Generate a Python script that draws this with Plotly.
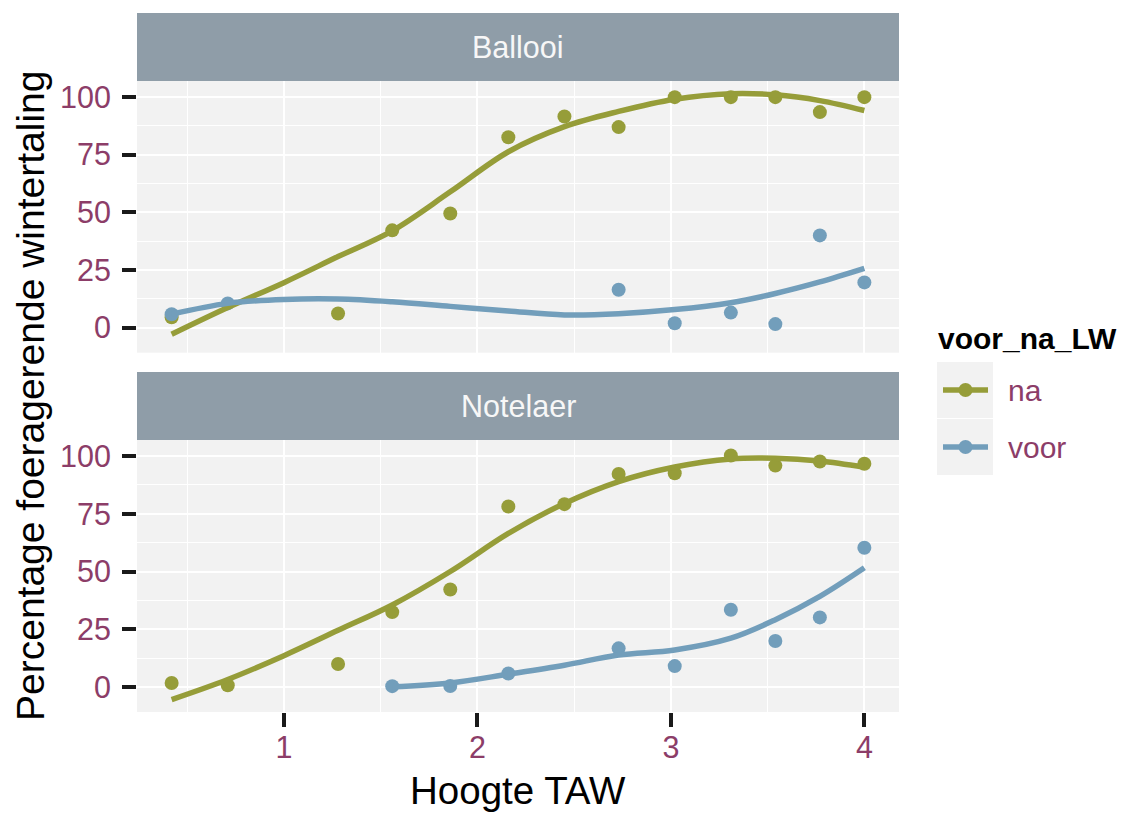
import plotly.graph_objects as go

# ---------------- data ----------------
# Ballooi (top panel)
ballooi_na_x = [0.42, 1.28, 1.56, 1.86, 2.16, 2.45, 2.73, 3.02, 3.31, 3.54, 3.77, 4.0]
ballooi_na_y = [4.5, 6.1, 42.2, 49.5, 82.6, 91.6, 87.0, 100, 100, 100, 93.5, 100]
ballooi_voor_x = [0.42, 0.71, 2.73, 3.02, 3.31, 3.54, 3.77, 4.0]
ballooi_voor_y = [5.8, 10.5, 16.4, 1.9, 6.5, 1.5, 40.0, 19.6]

# Notelaer (bottom panel)
notelaer_na_x = [0.42, 0.71, 1.28, 1.56, 1.86, 2.16, 2.45, 2.73, 3.02, 3.31, 3.54, 3.77, 4.0]
notelaer_na_y = [1.7, 0.7, 9.9, 32.4, 42.2, 78.2, 79.2, 92.3, 92.6, 100.3, 95.9, 97.7, 96.7]
notelaer_voor_x = [1.56, 1.86, 2.16, 2.73, 3.02, 3.31, 3.54, 3.77, 4.0]
notelaer_voor_y = [0.3, 0.4, 5.8, 16.7, 9.0, 33.4, 19.9, 30.1, 60.3]

# smoothed curves
curve_x = [0.42, 0.71, 1.0, 1.28, 1.56, 1.86, 2.16, 2.45, 2.73, 3.02, 3.31, 3.54, 3.77, 4.0]
ballooi_na_fit = [-2.9, 8.7, 19.5, 30.8, 42.0, 58.9, 76.3, 87.2, 93.8, 99.1, 101.5, 101.0, 98.5, 94.2]
ballooi_voor_fit = [5.8, 10.5, 12.2, 12.4, 11.2, 9.2, 7.2, 5.5, 6.0, 7.8, 10.8, 14.8, 19.8, 25.7]
notelaer_na_fit = [-5.5, 3.2, 13.5, 24.5, 35.5, 50.0, 66.5, 79.5, 89.0, 95.3, 98.8, 99.1, 97.9, 95.2]
curve_x_voor_n = [1.56, 1.86, 2.16, 2.45, 2.73, 3.02, 3.31, 3.54, 3.77, 4.0]
notelaer_voor_fit = [0.0, 1.7, 5.5, 9.4, 13.8, 16.0, 21.1, 29.1, 39.2, 51.6]

panels = ["Ballooi", "Notelaer"]
groups = ["na", "voor"]
legend_title = "voor_na_LW"

# ---------------- style ----------------
GREEN = "#969D39"
BLUE = "#729EBB"
STRIP = "#8F9DA8"
PANEL_BG = "#F2F2F2"
TICK_COL = "#8C3D68"
FONT = "Liberation Sans, Arial, sans-serif"
LW = 5.5
MS = 14

W, H = 1127, 816
ML, MR, MT, MB = 137, 228, 13, 104
PH = H - MT - MB
PW = W - ML - MR


def py(pix):
    return (H - MB - pix) / PH


def px(pix):
    return (pix - ML) / PW


fig = go.Figure()

COLORS = {"na": GREEN, "voor": BLUE}
pts = {
    ("Ballooi", "na"): (ballooi_na_x, ballooi_na_y),
    ("Ballooi", "voor"): (ballooi_voor_x, ballooi_voor_y),
    ("Notelaer", "na"): (notelaer_na_x, notelaer_na_y),
    ("Notelaer", "voor"): (notelaer_voor_x, notelaer_voor_y),
}
fits = {
    ("Ballooi", "na"): (curve_x, ballooi_na_fit),
    ("Ballooi", "voor"): (curve_x, ballooi_voor_fit),
    ("Notelaer", "na"): (curve_x, notelaer_na_fit),
    ("Notelaer", "voor"): (curve_x_voor_n, notelaer_voor_fit),
}
axes = {"Ballooi": ("x2", "y2"), "Notelaer": ("x", "y")}

for p in panels:
    xa, ya = axes[p]
    for g in groups:
        x, y = pts[(p, g)]
        fig.add_trace(go.Scatter(x=x, y=y, mode="markers", xaxis=xa, yaxis=ya, name=g,
                                 marker=dict(color=COLORS[g], size=MS),
                                 showlegend=False, hoverinfo="skip"))
for p in panels:
    xa, ya = axes[p]
    for g in groups:
        x, y = fits[(p, g)]
        fig.add_trace(go.Scatter(x=x, y=y, mode="lines", xaxis=xa, yaxis=ya, name=g,
                                 line=dict(color=COLORS[g], width=LW, shape="spline", smoothing=1.0),
                                 showlegend=False, hoverinfo="skip"))

xrange = [0.241, 4.179]
yrange = [-10.9, 107.0]

common_x = dict(range=xrange, tickmode="linear", tick0=1, dtick=1,
                showgrid=True, gridcolor="white", gridwidth=2.2,
                minor=dict(dtick=0.5, showgrid=True, gridcolor="white", gridwidth=1.1),
                zeroline=False, showline=False)
common_y = dict(range=yrange, tickmode="linear", tick0=0, dtick=25,
                showgrid=True, gridcolor="white", gridwidth=2.2,
                minor=dict(dtick=12.5, showgrid=True, gridcolor="white", gridwidth=1.1),
                zeroline=False, showline=False,
                ticks="outside", ticklen=14, tickwidth=3.5, tickcolor="#1a1a1a",
                tickfont=dict(family=FONT, size=30.5, color=TICK_COL),
                ticklabelstandoff=5)

fig.update_layout(
    width=W, height=H,
    margin=dict(l=ML, r=MR, t=MT, b=MB),
    paper_bgcolor="white", plot_bgcolor=PANEL_BG,
    font=dict(family=FONT, color="black"),
    showlegend=False,
    xaxis=dict(common_x, anchor="y", domain=[0, 1],
               ticks="outside", ticklen=14, tickwidth=3.5, tickcolor="#1a1a1a",
               tickfont=dict(family=FONT, size=30.5, color=TICK_COL),
               ticklabelstandoff=-6),
    xaxis2=dict(common_x, anchor="y2", domain=[0, 1], matches="x",
                showticklabels=False, ticks=""),
    yaxis=dict(common_y, anchor="x", domain=[0, py(440)]),
    yaxis2=dict(common_y, anchor="x2", domain=[py(352.7), py(81)]),
)

shapes = []
# facet strips
shapes.append(dict(type="rect", xref="paper", yref="paper", x0=0, x1=1,
                   y0=py(81), y1=py(13), fillcolor=STRIP, line=dict(width=0), layer="above"))
shapes.append(dict(type="rect", xref="paper", yref="paper", x0=0, x1=1,
                   y0=py(440), y1=py(372), fillcolor=STRIP, line=dict(width=0), layer="above"))

annotations = [
    dict(text=panels[0], xref="paper", yref="paper", x=0.5, y=py(47), showarrow=False,
         font=dict(family=FONT, size=30.5, color="#F7F7F7"), xanchor="center", yanchor="middle"),
    dict(text=panels[1], xref="paper", yref="paper", x=0.5, y=py(406), showarrow=False,
         font=dict(family=FONT, size=30.5, color="#F7F7F7"), xanchor="center", yanchor="middle"),
    dict(text="Percentage foeragerende wintertaling", xref="paper", yref="paper",
         x=px(30), y=py(396), textangle=-90, showarrow=False,
         font=dict(family=FONT, size=39, color="black"), xanchor="center", yanchor="middle"),
    dict(text="Hoogte TAW", xref="paper", yref="paper", x=0.5, y=py(790), showarrow=False,
         font=dict(family=FONT, size=38.5, color="black"), xanchor="center", yanchor="middle"),
    dict(text="<b>" + legend_title + "</b>", xref="paper", yref="paper", x=px(936), y=py(338),
         showarrow=False, font=dict(family=FONT, size=30, color="black"),
         xanchor="left", yanchor="middle"),
]

# legend (keys drawn in pixel-sized shapes)
key_rows = {"na": 390, "voor": 447}
for g in groups:
    yc = key_rows[g]
    shapes.append(dict(type="rect", xref="paper", yref="paper", x0=px(937), x1=px(993),
                       y0=py(yc + 28), y1=py(yc - 28), fillcolor=PANEL_BG,
                       line=dict(width=0), layer="above"))
    shapes.append(dict(type="line", xref="paper", yref="paper", x0=px(943), x1=px(988),
                       y0=py(yc), y1=py(yc), line=dict(color=COLORS[g], width=LW), layer="above"))
    shapes.append(dict(type="circle", xref="paper", yref="paper",
                       xsizemode="pixel", ysizemode="pixel",
                       xanchor=px(965.5), yanchor=py(yc), x0=-MS / 2, x1=MS / 2,
                       y0=-MS / 2, y1=MS / 2, fillcolor=COLORS[g],
                       line=dict(width=0), layer="above"))
    annotations.append(dict(text=g, xref="paper", yref="paper", x=px(1006), y=py(yc),
                            showarrow=False, font=dict(family=FONT, size=30, color=TICK_COL),
                            xanchor="left", yanchor="middle"))

fig.update_layout(shapes=shapes, annotations=annotations)

fig.write_html("out.html", config={"displayModeBar": False},
               post_script="document.body.style.margin='0';")
